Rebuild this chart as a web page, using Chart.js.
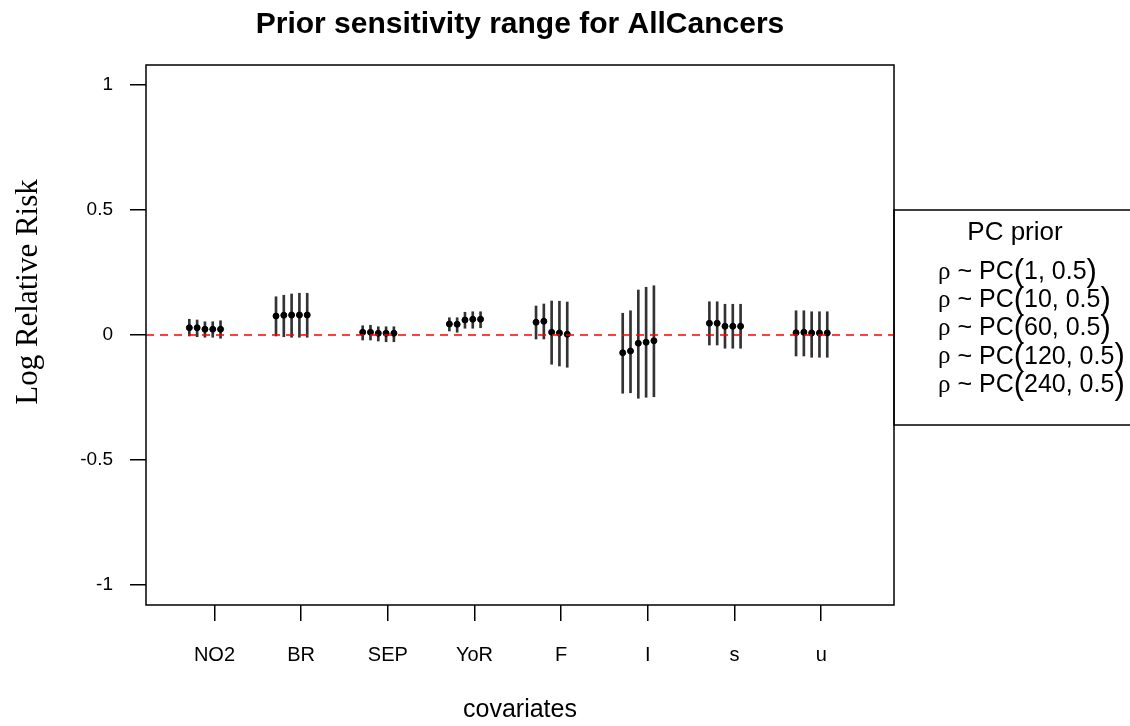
<!DOCTYPE html>
<html>
<head>
    <title>Prior sensitivity range for AllCancers</title>
    <script src="https://cdn.jsdelivr.net/npm/chart.js"></script>
    <style>
        body { margin: 0; background: #fff; }
    </style>
</head>
<body>

<canvas id="prior_chart" width="1130" height="726"></canvas>

<script>
// covariates on the x axis
const categories = ['NO2', 'BR', 'SEP', 'YoR', 'F', 'I', 's', 'u'];
const yTicks = [-1, -0.5, 0, 0.5, 1];
const priorLabels = ['PC(1, 0.5)', 'PC(10, 0.5)', 'PC(60, 0.5)', 'PC(120, 0.5)', 'PC(240, 0.5)'];

// posterior mean and interval, one array per prior, in category order
const mean1   = [0.029, 0.076, 0.011, 0.044, 0.051, -0.071, 0.047, 0.009];
const lower1  = [-0.004, -0.004, -0.020, 0.016, -0.016, -0.233, -0.040, -0.084];
const upper1  = [0.063, 0.153, 0.037, 0.069, 0.116, 0.087, 0.133, 0.097];

const mean10  = [0.029, 0.079, 0.011, 0.043, 0.055, -0.064, 0.047, 0.011];
const lower10 = [-0.007, -0.007, -0.020, 0.011, -0.016, -0.231, -0.040, -0.084];
const upper10 = [0.060, 0.159, 0.039, 0.069, 0.124, 0.097, 0.133, 0.097];

const mean60  = [0.023, 0.080, 0.007, 0.060, 0.011, -0.033, 0.035, 0.008];
const lower60 = [-0.009, -0.009, -0.024, 0.027, -0.117, -0.253, -0.053, -0.089];
const upper60 = [0.053, 0.164, 0.033, 0.091, 0.136, 0.180, 0.123, 0.093];

const mean120  = [0.023, 0.080, 0.007, 0.063, 0.008, -0.029, 0.035, 0.008];
const lower120 = [-0.009, -0.009, -0.027, 0.027, -0.124, -0.249, -0.053, -0.089];
const upper120 = [0.053, 0.167, 0.033, 0.093, 0.135, 0.191, 0.123, 0.093];

const mean240  = [0.023, 0.080, 0.007, 0.063, 0.003, -0.023, 0.035, 0.008];
const lower240 = [-0.013, -0.009, -0.027, 0.029, -0.129, -0.247, -0.053, -0.089];
const upper240 = [0.057, 0.167, 0.033, 0.093, 0.132, 0.197, 0.123, 0.093];

const means  = [mean1, mean10, mean60, mean120, mean240];
const lowers = [lower1, lower10, lower60, lower120, lower240];
const uppers = [upper1, upper10, upper60, upper120, upper240];

// horizontal offset of each prior inside a group, label shift
const offsets = [-0.18, -0.09, 0, 0.09, 0.18];
const labelShift = 0.11;
const xMin = 0.32, xMax = 8.95;

const SANS = "'Liberation Sans', Arial, sans-serif";
const SERIF = "'Liberation Serif', 'Times New Roman', serif";
Chart.defaults.font.family = SANS;
Chart.defaults.color = '#000';

const datasets = [];
means.forEach(function(m, j) {
    datasets.push({
        type: 'bar',
        label: priorLabels[j] + ' interval',
        data: categories.map((c, i) => ({ x: i + 1 + offsets[j], y: [lowers[j][i], uppers[j][i]] })),
        backgroundColor: '#333333',
        borderWidth: 0,
        barThickness: 2,
        grouped: false,
        order: 3
    });
    datasets.push({
        type: 'scatter',
        label: priorLabels[j],
        data: categories.map((c, i) => ({ x: i + 1 + offsets[j], y: m[i] })),
        backgroundColor: '#000',
        borderColor: '#000',
        pointRadius: 3,
        pointHoverRadius: 3,
        order: 2
    });
});
datasets.push({
    type: 'line',
    label: 'zero',
    data: [{ x: xMin, y: 0 }, { x: xMax, y: 0 }],
    borderColor: '#ff0000',
    borderWidth: 1.5,
    borderDash: [8, 6],
    pointRadius: 0,
    order: 1
});

// box round the plot area, main title and y title
const framePlugin = {
    id: 'plotFrame',
    afterDraw(chart) {
        const a = chart.chartArea, ctx = chart.ctx;
        ctx.save();
        ctx.strokeStyle = '#000';
        ctx.lineWidth = 1.5;
        ctx.strokeRect(a.left, a.top, a.right - a.left, a.bottom - a.top);
        ctx.fillStyle = '#000';
        ctx.textAlign = 'center';
        ctx.textBaseline = 'middle';
        ctx.font = 'bold 30px ' + SANS;
        ctx.fillText('Prior sensitivity range for AllCancers', (a.left + a.right) / 2, 25);
        ctx.translate(29, 292);
        ctx.rotate(-Math.PI / 2);
        ctx.font = '31px ' + SERIF;
        ctx.fillText('Log Relative Risk', 0, 0);
        ctx.restore();
    }
};

// legend box on the right, R plotmath style text
const legendPlugin = {
    id: 'pcLegend',
    afterDraw(chart) {
        const ctx = chart.ctx;
        const a = chart.chartArea;
        const left = a.right, top = 210, bottom = 425;
        ctx.save();
        ctx.strokeStyle = '#000';
        ctx.lineWidth = 1.5;
        ctx.strokeRect(left, top, 1140 - left, bottom - top);
        ctx.fillStyle = '#000';
        ctx.textBaseline = 'middle';
        ctx.textAlign = 'center';
        ctx.font = '26px ' + SANS;
        ctx.fillText('PC prior', 1015, 233);
        ctx.textAlign = 'left';
        priorLabels.forEach(function(lab, k) {
            const y = 272 + k * 28.3;
            let x = 938;
            const inner = lab.slice(3, -1);
            const parts = [
                ['ρ', '25px ' + SERIF],
                [' ~ PC', '25px ' + SANS],
                ['(', '31px ' + SANS],
                [inner, '25px ' + SANS],
                [')', '31px ' + SANS]
            ];
            parts.forEach(function(p) {
                ctx.font = p[1];
                ctx.fillText(p[0], x, y);
                x += ctx.measureText(p[0]).width;
            });
        });
        ctx.restore();
    }
};

new Chart(document.getElementById('prior_chart').getContext('2d'), {
    type: 'scatter',
    data: { datasets: datasets },
    options: {
        responsive: false,
        animation: false,
        layout: { padding: { left: 0, right: 236, top: 65, bottom: 0 } },
        scales: {
            x: {
                type: 'linear',
                min: xMin,
                max: xMax,
                offset: false,
                afterBuildTicks: s => { s.ticks = categories.map((c, i) => ({ value: i + 1 + labelShift })); },
                afterFit: s => { s.height = 121; },
                ticks: {
                    autoSkip: false,
                    maxRotation: 0,
                    padding: 22,
                    font: { size: 20 },
                    callback: (v, i) => categories[i]
                },
                grid: {
                    offset: false,
                    drawOnChartArea: false,
                    drawTicks: true,
                    tickLength: 16,
                    color: '#000',
                    lineWidth: 1.5
                },
                border: { display: false },
                title: {
                    display: true,
                    text: 'covariates',
                    font: { size: 25 },
                    padding: { top: 0, bottom: 1 }
                }
            },
            y: {
                min: -1.08,
                max: 1.08,
                afterBuildTicks: s => { s.ticks = yTicks.map(v => ({ value: v })); },
                afterFit: s => { s.width = 146; },
                ticks: {
                    padding: 17,
                    font: { size: 19 },
                    callback: v => String(v)
                },
                grid: {
                    drawOnChartArea: false,
                    drawTicks: true,
                    tickLength: 16,
                    color: '#000',
                    lineWidth: 1.5
                },
                border: { display: false }
            }
        },
        plugins: {
            legend: { display: false },
            tooltip: { enabled: false },
            title: { display: false }
        }
    },
    plugins: [framePlugin, legendPlugin]
});
</script>

</body>
</html>
